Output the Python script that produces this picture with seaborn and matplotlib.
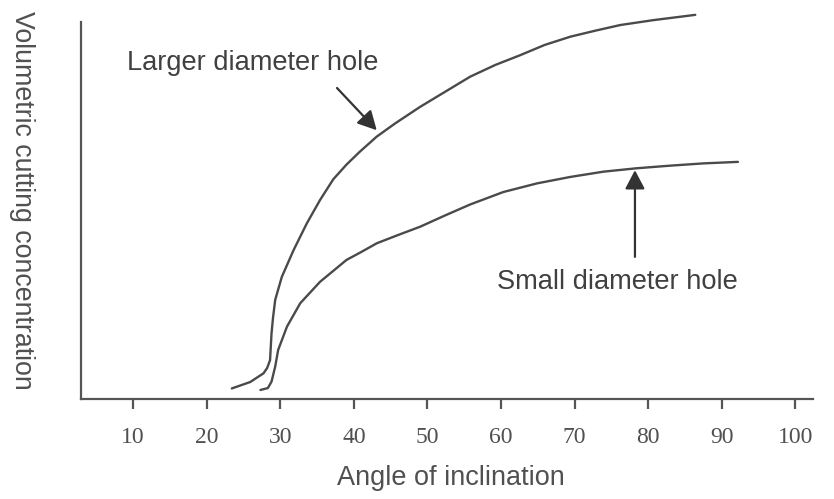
import matplotlib
matplotlib.use("Agg")
import matplotlib.pyplot as plt
import seaborn as sns
import pandas as pd

# Data (angle of inclination vs relative concentration)
large_angle = [23.4, 25.9, 27.7, 28.2, 28.6, 28.8, 29.0, 29.3, 30.2, 31.8, 33.6,
               35.4, 37.2, 39.0, 40.8, 43.1, 45.6, 49.0, 52.4, 55.8, 59.2,
               62.6, 65.9, 69.4, 72.8, 76.2, 80.7, 86.4]
large_conc = [2.8, 4.5, 6.8, 8.2, 10.3, 17.4, 21.5, 26.3, 32.4, 39.5, 46.6,
              52.8, 58.3, 62.2, 65.6, 69.6, 73.1, 77.5, 81.5, 85.5, 88.6,
              91.2, 93.9, 96.1, 97.7, 99.2, 100.5, 101.9]

small_angle = [27.3, 28.3, 28.8, 29.3, 29.7, 30.9, 32.7, 35.4, 37.2, 39.0, 41.0,
               43.1, 46.0, 49.0, 52.4, 55.8, 60.3, 64.9, 69.4, 73.9, 78.4,
               83.0, 87.5, 92.2]
small_conc = [2.4, 2.9, 4.6, 8.6, 13.0, 19.2, 25.4, 31.1, 34.0, 36.9, 39.0,
              41.3, 43.5, 45.7, 48.7, 51.6, 54.9, 57.2, 58.9, 60.3, 61.2,
              61.9, 62.5, 62.9]

x_ticks = [10, 20, 30, 40, 50, 60, 70, 80, 90, 100]

label_large = "Larger diameter hole"
label_small = "Small diameter hole"

sns.set_theme(style="white")
plt.rcParams['font.family'] = ['Liberation Sans', 'DejaVu Sans']

line_color = "#4a4a4a"
axis_color = "#555555"

fig = plt.figure(figsize=(8.34, 4.99), dpi=100)
ax = fig.add_axes([0.0971, 0.2004, 0.8777, 0.7736])

df_large = pd.DataFrame({"angle": large_angle, "conc": large_conc})
df_small = pd.DataFrame({"angle": small_angle, "conc": small_conc})
sns.lineplot(data=df_large, x="angle", y="conc", ax=ax, color=line_color,
             linewidth=1.7, estimator=None, sort=False)
sns.lineplot(data=df_small, x="angle", y="conc", ax=ax, color=line_color,
             linewidth=1.7, estimator=None, sort=False)

ax.set_xlim(2.9, 102.4)
ax.set_ylim(0, 102.4)

for s in ["top", "right"]:
    ax.spines[s].set_visible(False)
for s in ["left", "bottom"]:
    ax.spines[s].set_color(axis_color)
    ax.spines[s].set_linewidth(1.6)
ax.spines["left"].set_bounds(0, 100)

ax.set_xticks(x_ticks)
ax.set_xticklabels([str(t) for t in x_ticks], family=['Liberation Serif'],
                   fontsize=17, color="#505050")
ax.set_yticks([])
ax.tick_params(axis="x", direction="out", length=7.5, width=1.6,
               color=axis_color, pad=13, bottom=True)

ax.set_xlabel("Angle of inclination", fontsize=19.5, color="#505050")
ax.xaxis.set_label_coords(0.506, -0.172)
ax.set_ylabel("Volumetric cutting concentration", fontsize=19.3, color="#505050",
              rotation=-90)
ax.yaxis.set_label_coords(-0.099, 0.515)

arrow_props = dict(arrowstyle="-|>,head_length=0.95,head_width=0.5",
                   color="#333333", lw=1.6, shrinkA=0, shrinkB=0)

ax.annotate("", xy=(43.1, 71.3), xytext=(37.7, 82.5), arrowprops=arrow_props)
ax.text(9.1, 89.1, label_large, fontsize=19.6, color="#404040",
        ha="left", va="center")

ax.annotate("", xy=(78.2, 60.7), xytext=(78.2, 37.7), arrowprops=arrow_props)
ax.text(59.4, 31.1, label_small, fontsize=19.6, color="#404040",
        ha="left", va="center")

fig.savefig("out.png", dpi=100)
